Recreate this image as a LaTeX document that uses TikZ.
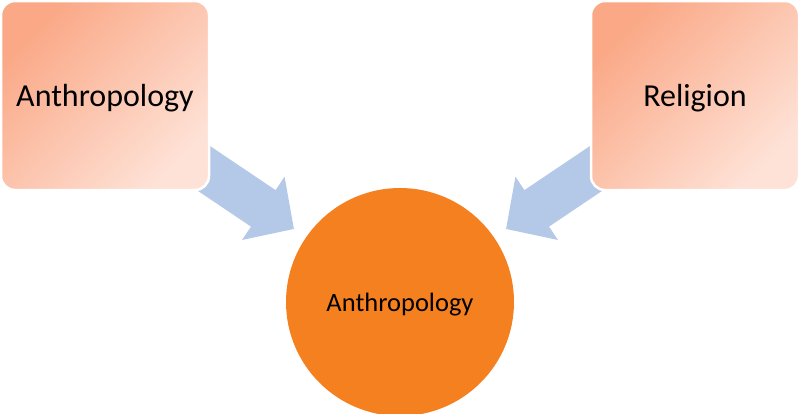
\documentclass[tikz,border=0pt]{standalone}
\usepackage{fontspec}
\setmainfont{Carlito}
\usetikzlibrary{arrows.meta,shapes.geometric}
\definecolor{boxdark}{RGB}{250,168,134}
\definecolor{boxlight}{RGB}{254,226,215}
\definecolor{coreorange}{RGB}{244,128,32}
\definecolor{feedblue}{RGB}{180,200,231}
\tikzset{%
  topic/.style = {shape=rectangle, rounded corners=14pt,%
                  draw=white, line width=2.5pt,%
                  minimum width=208pt, minimum height=189pt,%
                  top color=boxdark, bottom color=boxlight,%
                  shading angle=45, text depth=0pt,%
                  font=\fontsize{32}{38}\selectfont},%
  core/.style  = {circle, fill=coreorange, minimum size=228pt,%
                  text depth=0pt, font=\fontsize{26.5}{32}\selectfont},%
  feed/.style  = {draw=feedblue, line width=44pt,%
                  -{Triangle[width=74pt,length=37pt]}}%
}

\begin{document}
\begin{tikzpicture}[x=1pt,y=-1pt]%
	\useasboundingbox (0,0) rectangle (803,413);
	% free ends of the block arrows
	\coordinate (lstart) at (178,151);
	\coordinate (ltip)   at (294,229);
	\coordinate (rstart) at (622,151);
	\coordinate (rtip)   at (506,229);
	\draw[feed] (lstart) -- (ltip);
	\draw[feed] (rstart) -- (rtip);
	% sources
	\node[topic] (anthro) at (105,95.5) {Anthropology};
	\node[topic] (relig)  at (695,95.5) {Religion};
	% result
	\node[core]  (result) at (400,302) {Anthropology};
\end{tikzpicture}
\end{document}
